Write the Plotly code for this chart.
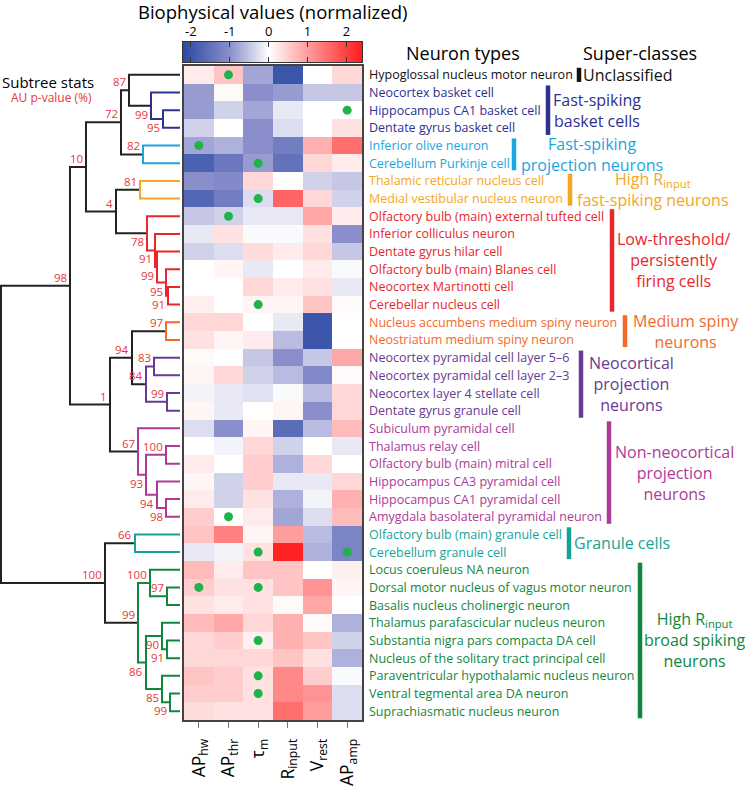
import plotly.graph_objects as go

W, H = 746, 786

neurons = [
    "Hypoglossal nucleus motor neuron", "Neocortex basket cell", "Hippocampus CA1 basket cell",
    "Dentate gyrus basket cell", "Inferior olive neuron", "Cerebellum Purkinje cell",
    "Thalamic reticular nucleus cell", "Medial vestibular nucleus neuron",
    "Olfactory bulb (main) external tufted cell", "Inferior colliculus neuron", "Dentate gyrus hilar cell",
    "Olfactory bulb (main) Blanes cell", "Neocortex Martinotti cell", "Cerebellar nucleus cell",
    "Nucleus accumbens medium spiny neuron", "Neostriatum medium spiny neuron",
    "Neocortex pyramidal cell layer 5\u20136", "Neocortex pyramidal cell layer 2\u20133",
    "Neocortex layer 4 stellate cell", "Dentate gyrus granule cell", "Subiculum pyramidal cell",
    "Thalamus relay cell", "Olfactory bulb (main) mitral cell", "Hippocampus CA3 pyramidal cell",
    "Hippocampus CA1 pyramidal cell", "Amygdala basolateral pyramidal neuron",
    "Olfactory bulb (main) granule cell", "Cerebellum granule cell", "Locus coeruleus NA neuron",
    "Dorsal motor nucleus of vagus motor neuron", "Basalis nucleus cholinergic neuron",
    "Thalamus parafascicular nucleus neuron", "Substantia nigra pars compacta DA cell",
    "Nucleus of the solitary tract principal cell", "Paraventricular hypothalamic nucleus neuron",
    "Ventral tegmental area DA neuron", "Suprachiasmatic nucleus neuron",
]
group_of = [0, 1, 1, 1, 2, 2, 3, 3, 4, 4, 4, 4, 4, 4, 5, 5, 6, 6, 6, 6,
            7, 7, 7, 7, 7, 7, 8, 8, 9, 9, 9, 9, 9, 9, 9, 9, 9]

superclasses = [
    "Unclassified", "Fast-spiking<br>basket cells", "Fast-spiking<br>projection neurons",
    "High R<sub>input</sub><br>fast-spiking neurons", "Low-threshold/<br>persistently<br>firing cells",
    "Medium spiny<br>neurons", "Neocortical<br>projection<br>neurons",
    "Non-neocortical<br>projection<br>neurons", "Granule cells",
    "High R<sub>input</sub><br>broad spiking<br>neurons",
]
class_colors = ["#111111", "#2e3192", "#1ba6e0", "#f5a623", "#e8262b",
                "#f26a2b", "#673a94", "#ad3a98", "#15a398", "#11873d"]

features = ["AP<sub>hw</sub>", "AP<sub>thr</sub>", "\u03c4<sub>m</sub>",
            "R<sub>input</sub>", "V<sub>rest</sub>", "AP<sub>amp</sub>"]
scale_ticks = [-2, -1, 0, 1, 2]

ap_hw = [0.2, -0.9, -0.9, -0.4, -0.8, -1.8, -1.0, -1.7, -0.5, -0.2, -0.4, 0.0, 0.0, 0.15,
         0.4, 0.3, 0.05, 0.1, -0.1, 0.1, -0.3, 0.0, 0.2, 0.1, 0.2, 0.5, 0.6, -0.2,
         0.7, 0.5, 0.3, 0.7, 0.4, 0.4, 0.6, 0.5, 0.35]
ap_thr = [0.6, 0.05, -0.4, 0.0, -0.7, -1.4, -1.1, -1.3, -0.4, 0.3, -0.3, 0.1, 0.0, 0.0,
          0.4, 0.1, 0.0, 0.4, -0.2, -0.2, -1.0, -0.1, 0.0, -0.4, -0.4, 0.0, 1.3, -0.1,
          0.2, 0.3, 0.2, 0.9, 0.5, 0.4, 0.5, 0.5, 0.3]
tau_m = [-0.8, -1.0, -0.8, -1.0, -1.0, -0.9, 0.4, -0.3, -0.2, -0.05, 0.35, -0.2, 0.4, 0.1,
         0.0, 0.2, -0.5, -0.4, -0.25, 0.0, 0.1, 0.4, 0.5, 0.5, 0.3, 0.2, 0.1, 0.3,
         0.6, 0.3, 0.3, 0.4, 0.15, 0.4, 0.3, 0.3, 0.3]
r_input = [-2.0, -0.9, -0.2, -0.3, -1.3, -1.5, 0.0, 1.6, -0.2, -0.05, 0.2, 0.0, 0.2, 0.1,
           -0.2, -0.6, -1.0, -0.6, -0.05, 0.1, -1.6, -0.4, -0.7, -0.2, -0.7, -0.8, 1.0, 2.3,
           0.6, 0.6, 0.05, 0.8, 0.8, 0.6, 1.2, 1.2, 1.5]
v_rest = [0.0, -0.5, 0.0, 0.0, 0.8, 0.4, -0.4, 0.4, 0.9, 0.3, 0.4, 0.2, 0.3, 0.6,
          -2.0, -2.0, -0.5, -1.1, -0.6, -1.0, -0.6, 0.0, 0.4, -0.2, -0.1, -0.3, -0.6, -0.7,
          0.0, 1.1, 0.9, 0.05, 0.6, 0.3, 0.5, 1.1, 1.0]
ap_amp = [0.4, -0.5, 0.0, 0.3, 1.5, 0.2, -0.5, -0.4, 0.2, -1.0, -0.5, -0.05, -0.2, 0.05,
          0.0, 0.0, 0.9, 0.05, 0.4, 0.4, 0.7, -0.2, 0.0, 0.4, 0.8, 0.7, -1.2, -1.2,
          0.15, 0.1, 0.0, -0.7, -0.4, -0.7, -0.05, -0.3, -0.3]

# cells flagged with a green dot
dot_rows = [0, 2, 4, 5, 7, 8, 13, 25, 27, 27, 29, 29, 32, 34, 35]
dot_cols = [1, 5, 0, 2, 2, 1, 2, 1, 2, 5, 0, 2, 2, 2, 2]

# linkage: left, right, height, AU p-value (%)
links = [
    (2, 3, 0.17, 95), (1, 37, 0.29, 99), (0, 38, 0.51, 87), (4, 5, 0.37, 82),
    (39, 40, 0.59, 72), (6, 7, 0.40, 81), (12, 13, 0.12, 91), (11, 43, 0.14, 95),
    (10, 44, 0.23, 99), (9, 45, 0.25, 91), (8, 46, 0.33, 78), (42, 47, 0.64, 4),
    (41, 48, 0.94, 10), (14, 15, 0.14, 97), (16, 17, 0.26, 83), (18, 19, 0.13, 99),
    (51, 52, 0.34, 84), (50, 53, 0.48, 94), (21, 22, 0.14, 100), (24, 25, 0.14, 98),
    (23, 56, 0.23, 94), (55, 57, 0.34, 93), (20, 58, 0.42, 67), (54, 59, 0.70, 1),
    (49, 60, 1.10, 98), (26, 27, 0.45, 66), (29, 30, 0.13, 97), (28, 63, 0.30, 100),
    (32, 33, 0.13, 91), (31, 65, 0.18, 90), (35, 36, 0.10, 99), (34, 67, 0.18, 85),
    (66, 68, 0.34, 86), (64, 69, 0.42, 99), (62, 70, 0.75, 100), (61, 71, 1.79, None),
]
labels_below = {37, 38, 43, 44, 45, 46, 47, 56, 57, 58, 65, 66, 67, 68, 69}

# super-class bar / label x positions (pixels)
bar_x = [579, 548, 514, 570, 612, 625, 581, 609, 569, 640]
label_x = [628, 597, 592, 653, 673, 686, 631, 674, 622, 695]


def px(x):
    return x / W


def py(y):
    return 1 - y / H


heat = [list(r) for r in zip(ap_hw, ap_thr, tau_m, r_input, v_rest, ap_amp)]
zmin, zmax = -2.2, 2.4
cscale = [[0, "#2c4aa5"], [0.26, "#8a8fcb"], [0.478, "#ffffff"], [0.70, "#ff9a9a"], [1, "#ff1a1a"]]

fig = go.Figure()
fig.add_trace(go.Heatmap(z=heat, x=list(range(6)), y=list(range(len(neurons))),
                         colorscale=cscale, zmin=zmin, zmax=zmax, showscale=False,
                         xaxis="x", yaxis="y"))
fig.add_trace(go.Scatter(x=dot_cols, y=dot_rows, mode="markers",
                         marker=dict(size=9, color="#20b34a"), xaxis="x", yaxis="y"))

# colour bar drawn as its own small heatmap so labels can sit on top
fig.add_trace(go.Heatmap(z=[[zmin, zmax]], x=[zmin, zmax], y=[0], zsmooth="best",
                         colorscale=cscale, zmin=zmin, zmax=zmax, showscale=False,
                         xaxis="x3", yaxis="y3"))

# dendrogram
n = len(neurons)
node_h = [0.0] * n
node_y = [float(i) for i in range(n)]
node_g = list(group_of)
segs = {}
annots = []
for k, (a, b, hgt, au) in enumerate(links):
    g = node_g[a] if (node_g[a] is not None and node_g[a] == node_g[b]) else None
    col = class_colors[g] if g is not None else "#222222"
    xs, ys = segs.setdefault(col, ([], []))
    xs += [node_h[a], hgt, hgt, node_h[b], None]
    ys += [node_y[a], node_y[a], node_y[b], node_y[b], None]
    node_h.append(hgt)
    node_y.append((node_y[a] + node_y[b]) / 2)
    node_g.append(g)
    if au is not None:
        below = (n + k) in labels_below
        annots.append(dict(x=hgt, y=node_y[-1], xref="x2", yref="y2", text=str(au),
                           showarrow=False, xanchor="right",
                           yanchor="top" if below else "bottom", xshift=-1,
                           yshift=1 if below else -1,
                           font=dict(size=11.5, color="#e8383d")))
for col, (xs, ys) in segs.items():
    fig.add_trace(go.Scatter(x=xs, y=ys, mode="lines", line=dict(color=col, width=2),
                             xaxis="x2", yaxis="y2", hoverinfo="skip"))

# neuron names
for i, name in enumerate(neurons):
    annots.append(dict(x=px(367), y=i, xref="paper", yref="y", text=name, showarrow=False,
                       xanchor="left", yanchor="middle",
                       font=dict(size=12.5, color=class_colors[group_of[i]])))

# super-classes
shapes = []
for g, sc in enumerate(superclasses):
    rows = [i for i, gg in enumerate(group_of) if gg == g]
    shapes.append(dict(type="line", xref="paper", yref="y", x0=px(bar_x[g]), x1=px(bar_x[g]),
                       y0=rows[0] - 0.4, y1=rows[-1] + 0.4,
                       line=dict(color=class_colors[g], width=4.5)))
    annots.append(dict(x=px(label_x[g]), y=(rows[0] + rows[-1]) / 2, xref="paper", yref="y",
                       text=sc, showarrow=False, xanchor="center", yanchor="middle",
                       font=dict(size=16, color=class_colors[g])))

annots += [
    dict(x=px(272), y=py(11), xref="paper", yref="paper", text="Biophysical values (normalized)",
         xanchor="center", yanchor="middle", showarrow=False, font=dict(size=18.5, color="black")),
    dict(x=px(463), y=py(53), xref="paper", yref="paper", text="Neuron types",
         xanchor="center", yanchor="middle", showarrow=False, font=dict(size=18, color="black")),
    dict(x=px(640), y=py(53), xref="paper", yref="paper", text="Super-classes",
         xanchor="center", yanchor="middle", showarrow=False, font=dict(size=18, color="black")),
    dict(x=px(0), y=py(82), xref="paper", yref="paper", text="Subtree stats", xanchor="left",
         yanchor="middle", showarrow=False, font=dict(size=15, color="black")),
    dict(x=px(9), y=py(98), xref="paper", yref="paper", text="AU p-value (%)", xanchor="left",
         yanchor="middle", showarrow=False, font=dict(size=12, color="#e8383d")),
]

ydom = [py(720), py(66)]
fig.update_layout(
    width=W, height=H, margin=dict(l=0, r=0, t=0, b=0, autoexpand=False),
    paper_bgcolor="white", plot_bgcolor="white", showlegend=False,
    font=dict(family="Open Sans", color="black"),
    xaxis=dict(domain=[px(184), px(362)], anchor="y", range=[-0.5, 5.5],
               tickvals=list(range(6)), ticktext=features, tickangle=-90,
               ticks="outside", ticklen=6, tickcolor="#777", showline=True, mirror=True,
               linecolor="#444", linewidth=1.5, showgrid=False, zeroline=False,
               ticklabelstandoff=4, automargin=False, tickfont=dict(size=17.5, color="black")),
    yaxis=dict(domain=ydom, anchor="x", range=[n - 0.5, -0.5], showticklabels=False,
               showline=True, mirror=True, linecolor="#444", linewidth=1.5,
               showgrid=False, zeroline=False, ticks="", automargin=False),
    xaxis2=dict(domain=[0, px(184)], anchor="y2", range=[1.80, -0.04], visible=False,
                automargin=False),
    yaxis2=dict(domain=ydom, anchor="x2", range=[n - 0.5, -0.5], visible=False,
                automargin=False),
    xaxis3=dict(domain=[px(183), px(362)], anchor="y3", range=[zmin, zmax], side="top",
                tickvals=scale_ticks, ticktext=[str(t) for t in scale_ticks],
                ticks="inside", ticklen=5, tickcolor="#333",
                showline=True, mirror="ticks", linecolor="#333", linewidth=1,
                showgrid=False, zeroline=False, automargin=False,
                tickfont=dict(size=13, color="black")),
    yaxis3=dict(domain=[py(62), py(42)], anchor="x3", range=[-0.5, 0.5], showticklabels=False,
                showline=True, mirror=True, linecolor="#333", linewidth=1,
                showgrid=False, zeroline=False, ticks="", automargin=False),
    annotations=annots, shapes=shapes,
)

# page body has a default margin; drop it so the figure sits at the window origin
fig.write_html("out.html", config={"displayModeBar": False},
               post_script="document.body.style.margin='0';")
